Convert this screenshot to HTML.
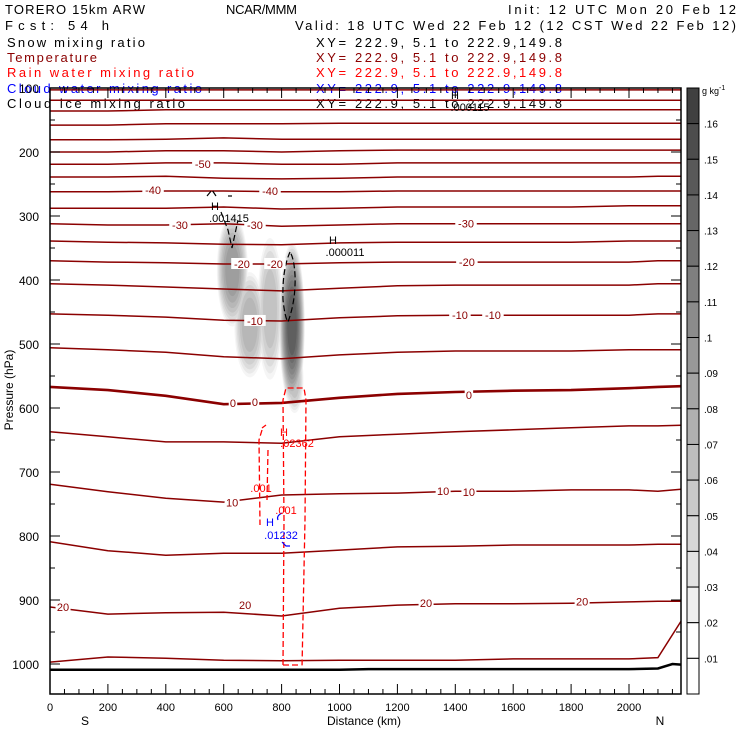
<!DOCTYPE html>
<html><head><meta charset="utf-8"><style>
html,body{margin:0;padding:0;background:#fff}
svg{display:block}
text{font-family:"Liberation Sans",sans-serif}
</style></head><body>
<svg id="chart" width="740" height="740" viewBox="0 0 740 740" xmlns="http://www.w3.org/2000/svg">
<rect width="740" height="740" fill="#fff"/>
<g font-size="13">
<text x="5" y="14" textLength="140">TORERO  15km ARW</text>
<text x="226" y="14" textLength="71">NCAR/MMM</text>
<text x="508" y="14" textLength="228">Init: 12 UTC Mon 20 Feb 12</text>
<text x="5" y="30" textLength="104">Fcst:   54 h</text>
<text x="295" y="30" textLength="441">Valid: 18 UTC Wed 22 Feb 12 (12 CST Wed 22 Feb 12)</text>
<text x="7" y="47" textLength="138">Snow mixing ratio</text>
<text x="316" y="47" textLength="246">XY= 222.9,  5.1 to 222.9,149.8</text>
<text x="7" y="62" fill="#8b0000" textLength="90">Temperature</text>
<text x="316" y="62" fill="#8b0000" textLength="246">XY= 222.9,  5.1 to 222.9,149.8</text>
<text x="7" y="77" fill="#ff0000" textLength="187">Rain water mixing ratio</text>
<text x="316" y="77" fill="#ff0000" textLength="246">XY= 222.9,  5.1 to 222.9,149.8</text>
<text x="7" y="93" fill="#0000ff" textLength="195">Cloud water mixing ratio</text>
<text x="316" y="93" fill="#0000ff" textLength="246">XY= 222.9,  5.1 to 222.9,149.8</text>
<text x="7" y="108" textLength="178">Cloud ice mixing ratio</text>
<text x="316" y="108" textLength="246">XY= 222.9,  5.1 to 222.9,149.8</text>
</g>
<g id="plot"></g>
<g id="axes"></g>
<g id="cbar"></g>
</svg>
<script>
var kmCols=[0,200,400,600,800,1000,1200,1400,1600,1800,2000,2100,2180];
var isoTemps=[-80,-75,-70,-65,-60,-55,-50,-45,-40,-35,-30,-25,-20,-15,-10,-5,0,5,10,15,20,25];
var isoP=[
[103,103,103,103,103,103,103,103,103,103,103,103,103],
[119,119,119,119,119,119,119,119,119,119,119,119,119],
[136,136,134,134,134,134,134,134,134,134,134,134,134],
[158,158,156,156,156,155,155,155,155,155,155,155,155],
[181,181,180,178,180,180,180,180,180,180,180,180,180],
[200,200,198,198,200,198,197,197,197,197,197,197,197],
[219,219,217,217,219,219,217,217,217,217,217,217,217],
[239,239,238,241,242,241,239,239,239,239,239,238,238],
[262,262,261,261,262,262,261,261,261,261,261,261,261],
[288,288,288,286,289,288,286,286,286,286,284,284,284],
[312,314,314,312,316,314,312,312,312,312,312,312,312],
[339,341,342,344,345,342,341,341,341,341,339,339,339],
[370,372,373,375,375,373,372,372,372,372,372,370,370],
[406,408,411,414,417,413,409,408,408,408,408,406,406],
[453,455,458,463,464,459,456,455,455,455,455,453,453],
[506,509,513,520,523,517,513,511,511,511,509,509,509],
[567,572,581,594,592,584,578,575,573,572,569,567,566],
[637,645,653,653,655,645,641,637,634,631,628,628,627],
[719,731,741,747,736,734,733,730,730,728,728,730,727],
[809,823,830,827,827,822,817,816,814,814,814,813,813],
[911,922,920,919,925,913,908,906,906,905,903,902,902],
[997,989,991,994,995,994,994,994,992,992,992,990,933]];
var tLabelKm=[528,356,760,449,708,1437,663,777,1440,708,1416,1530,632,708,1447,629,1358,1447,45,674,1299,1838];
var tLabelP=[219,259,261,314,314,312,375,375,372,464,455,455,592,591,580,748,730,731,911,908,905,902];
var tLabelText=["-50","-40","-40","-30","-30","-30","-20","-20","-20","-10","-10","-10","0","0","0","10","10","10","20","20","20","20"];
var groundKm=[0,1000,1100,2000,2100,2150,2180];
var groundP=[1009,1009,1008,1008,1007,1000,1001];
var snowKm=[836,630,690,760,845];
var snowP=[470,385,470,445,555];
var snowRxKm=[45,55,55,45,32];
var snowRyP=[130,90,85,115,55];
var snowPeak=[0.14,0.09,0.07,0.06,0.06];
var cbarLevels=[".16",".15",".14",".13",".12",".11",".1",".09",".08",".07",".06",".05",".04",".03",".02",".01"];
var xTicks=[0,200,400,600,800,1000,1200,1400,1600,1800,2000];
var yTicks=[100,200,300,400,500,600,700,800,900,1000];

var NS="http://www.w3.org/2000/svg";
var X0=50,X1=681,Y0=88,Y1=694;
function xs(km){return X0+km*0.2895;}
function ys(p){return Y0+(p-100)*0.64;}
function mk(tag,attrs,parent){var e=document.createElementNS(NS,tag);for(var k in attrs)e.setAttribute(k,attrs[k]);parent.appendChild(e);return e;}
function gray(v){ if(v<0.02)return "#ffffff"; var t=(v-0.02)/0.15; var g=Math.round(245-t*(245-58)); return "rgb("+g+","+g+","+g+")";}
var plot=document.getElementById('plot'),axes=document.getElementById('axes'),cb=document.getElementById('cbar');
var defs=mk('defs',{},plot);
var cp=mk('clipPath',{id:'pc'},defs);mk('rect',{x:X0,y:Y0,width:X1-X0,height:Y1-Y0},cp);
var pg=mk('g',{'clip-path':'url(#pc)'},plot);
for(var v=0.02;v<=0.16;v+=0.01){
  for(var b=0;b<snowKm.length;b++){
    if(v>snowPeak[b]+1e-9)continue;
    var f=Math.pow(1-(v-0.015)/snowPeak[b],0.45);
    var e=mk('ellipse',{cx:xs(snowKm[b]),cy:ys(snowP[b]),rx:snowRxKm[b]*0.2895*f,ry:snowRyP[b]*0.64*f,fill:gray(v)},pg);
    
    
  }
}
for(var i=0;i<isoTemps.length;i++){
  var d="";for(var j=0;j<kmCols.length;j++){d+=(j?"L":"M")+xs(kmCols[j]).toFixed(1)+" "+ys(isoP[i][j]).toFixed(1);}
  var pl=mk('path',{d:d,fill:'none',stroke:'#8b0000','stroke-width':isoTemps[i]===0?2.6:1.5},pg);
  
  
}
var gd="";for(var j=0;j<groundKm.length;j++){gd+=(j?"L":"M")+xs(groundKm[j])+" "+ys(groundP[j]);}
var gl=mk('path',{d:gd,fill:'none',stroke:'#000','stroke-width':2.5},pg);


var rainPaths=["M283 665 L284 520 L283 400 L286 388 L304 388 L306 400 L305 520 L302 668",
"M283 665 L300 665","M262 430 L259 440 L260 525","M268 450 L267 500","M262 428 L266 425"];
for(var r=0;r<rainPaths.length;r++){
  var rp=mk('path',{d:rainPaths[r],fill:'none',stroke:'#ff0000','stroke-width':1.3,'stroke-dasharray':'6 3'},pg);
  
  
}
var cw=mk('path',{d:"M282 513 Q276 516 278 520 M282 542 L286 546 L290 546",fill:'none',stroke:'#0000ff','stroke-width':1.2},pg);


var blk=["M290 252 Q282 270 283 300 Q285 318 288 322 Q296 300 295 275 Q294 258 290 252",
"M221 212 L228 230 L232 248 L238 220","M207 196 L212 190 L216 196","M228 196 L232 196"];
for(var k=0;k<blk.length;k++){
  var bp=mk('path',{d:blk[k],fill:'none',stroke:'#000','stroke-width':1.2,'stroke-dasharray':'6 3'},pg);
  
  
}
for(var l=0;l<tLabelKm.length;l++){
  var tx=xs(tLabelKm[l]),ty=ys(tLabelP[l]);
  var w=tLabelText[l].length*6.5+2;
  mk('rect',{x:tx-w/2,y:ty-6,width:w,height:11,fill:'#fff'},pg);
  var t=mk('text',{x:tx,y:ty+4,'text-anchor':'middle','font-size':11,fill:'#8b0000'},pg);
  t.textContent=tLabelText[l];
  
  
}
var hl=[[215,210,"H","#000"],[229,222,".001415","#000"],[333,244,"H","#000"],[345,256,".000011","#000"],[455,99,"H","#000"],[470,111,".000115","#000"],
[284,436,"H","#ff0000"],[297,447,".02362","#ff0000"],[261,492,".001","#ff0000"],[286,514,".001","#ff0000"],[270,526,"H","#0000ff"],[281,539,".01232","#0000ff"]];
for(var h=0;h<hl.length;h++){
  var ht=mk('text',{x:hl[h][0],y:hl[h][1],'text-anchor':'middle','font-size':11,fill:hl[h][3]},plot);
  ht.textContent=hl[h][2];
  
  
}
mk('rect',{x:X0,y:Y0,width:X1-X0,height:Y1-Y0,fill:'none',stroke:'#000','stroke-width':1.5},axes);
for(var km=0;km<=2150;km+=50){
  var x=xs(km),maj=(km%200===0);var L=maj?10:5;
  mk('line',{x1:x,y1:Y1,x2:x,y2:Y1-L,stroke:'#000'},axes);
  mk('line',{x1:x,y1:Y0,x2:x,y2:Y0+L,stroke:'#000'},axes);
}
for(var i=0;i<xTicks.length;i++){
  var t=mk('text',{x:xs(xTicks[i]),y:711,'text-anchor':'middle','font-size':11},axes);
  t.textContent=xTicks[i];
  
  
}
for(var p=100;p<=1040;p+=50){
  var y=ys(p),maj=(p%100===0);var L=maj?10:5;
  mk('line',{x1:X0,y1:y,x2:X0+L,y2:y,stroke:'#000'},axes);
  mk('line',{x1:X1,y1:y,x2:X1-L,y2:y,stroke:'#000'},axes);
}
for(var i=0;i<yTicks.length;i++){
  var t=mk('text',{x:39,y:ys(yTicks[i])+5,'text-anchor':'end','font-size':12},axes);
  t.textContent=yTicks[i];
  
  
}
var xt=mk('text',{x:364,y:725,'text-anchor':'middle','font-size':12},axes);xt.textContent="Distance (km)";

var s1=mk('text',{x:85,y:725,'text-anchor':'middle','font-size':12},axes);s1.textContent="S";

var n1=mk('text',{x:660,y:725,'text-anchor':'middle','font-size':12},axes);n1.textContent="N";

var yt=mk('text',{x:0,y:0,'text-anchor':'middle','font-size':12,transform:'translate(13,390) rotate(-90)'},axes);yt.textContent="Pressure (hPa)";

var CX=687,CW=12,bh=(Y1-Y0)/17;
for(var k=0;k<17;k++){
  var v=0.165-k*0.01;
  var r=mk('rect',{x:CX,y:Y0+k*bh,width:CW,height:bh,fill:gray(v),stroke:'#000','stroke-width':1},cb);
  
  
}
for(var k=0;k<cbarLevels.length;k++){
  var t=mk('text',{x:704,y:Y0+(k+1)*bh+4,'font-size':10},cb);
  t.textContent=cbarLevels[k];
  
  
}
var u=mk('text',{x:702,y:94,'font-size':9},cb);u.innerHTML='g kg<tspan dy="-4" font-size="7">-1</tspan>';

</script>
</body></html>
